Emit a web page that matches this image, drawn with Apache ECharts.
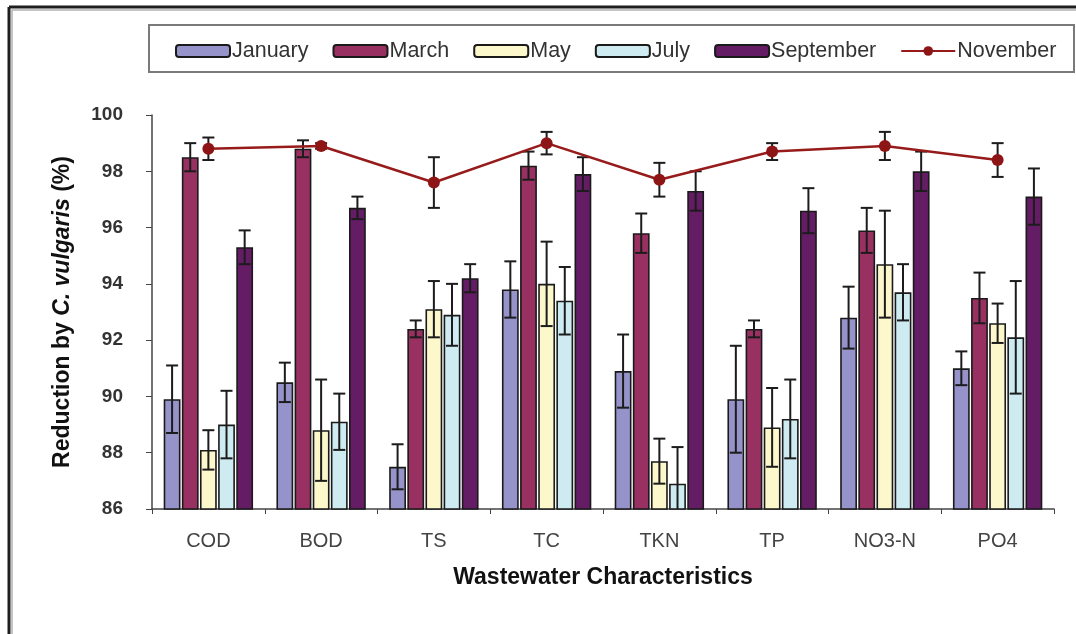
<!DOCTYPE html>
<html>
<head>
<meta charset="utf-8">
<script src="https://cdn.jsdelivr.net/npm/echarts@6/dist/echarts.min.js"></script>
<style>
  html, body { margin: 0; padding: 0; background: #fff; }
  #chart { width: 1076px; height: 634px; }
</style>
</head>
<body>
<div id="chart"></div>
<script>
// Wastewater characteristics and monthly reduction by C. vulgaris (%), mean ± error
const categories = ['COD', 'BOD', 'TS', 'TC', 'TKN', 'TP', 'NO3-N', 'PO4'];
const yTicks = [86, 88, 90, 92, 94, 96, 98, 100];

const january      = [89.9, 90.5, 87.5, 93.8, 90.9, 89.9, 92.8, 91.0];
const januaryErr   = [1.2, 0.7, 0.8, 1.0, 1.3, 1.9, 1.1, 0.6];
const march        = [98.5, 98.8, 92.4, 98.2, 95.8, 92.4, 95.9, 93.5];
const marchErr     = [0.5, 0.3, 0.3, 0.5, 0.7, 0.3, 0.8, 0.9];
const may          = [88.1, 88.8, 93.1, 94.0, 87.7, 88.9, 94.7, 92.6];
const mayErr       = [0.7, 1.8, 1.0, 1.5, 0.8, 1.4, 1.9, 0.7];
const july         = [89.0, 89.1, 92.9, 93.4, 86.9, 89.2, 93.7, 92.1];
const julyErr      = [1.2, 1.0, 1.1, 1.2, 1.3, 1.4, 1.0, 2.0];
const september    = [95.3, 96.7, 94.2, 97.9, 97.3, 96.6, 98.0, 97.1];
const septemberErr = [0.6, 0.4, 0.5, 0.6, 0.7, 0.8, 0.7, 1.0];
const november     = [98.8, 98.9, 97.6, 99.0, 97.7, 98.7, 98.9, 98.4];
const novemberErr  = [0.4, 0.1, 0.9, 0.4, 0.6, 0.3, 0.5, 0.6];

const barSeries = [
  { name: 'January',   values: january,   err: januaryErr,   color: '#9593c9' },
  { name: 'March',     values: march,     err: marchErr,     color: '#993062' },
  { name: 'May',       values: may,       err: mayErr,       color: '#fcf8cc' },
  { name: 'July',      values: july,      err: julyErr,      color: '#cfebf2' },
  { name: 'September', values: september, err: septemberErr, color: '#641c64' }
];

const BAR_W = 16.8;
const BAR_GAP_PCT = 8;
const BAR_STEP = BAR_W * (1 + BAR_GAP_PCT / 100);
const CAP = 6;

function errorRenderer(offsetIndex) {
  return function (params, api) {
    const i = api.value(0), v = api.value(1), e = api.value(2);
    const cs = params.coordSys;
    const top = api.coord([i, v + e]);
    const bot = api.coord([i, v - e]);
    const x = top[0] + offsetIndex * BAR_STEP;
    const y1 = Math.max(top[1], cs.y);
    const y2 = Math.min(bot[1], cs.y + cs.height);
    const style = { stroke: '#1c1c1c', lineWidth: 2 };
    const children = [
      { type: 'line', shape: { x1: x, y1: y1, x2: x, y2: y2 }, style: style }
    ];
    if (top[1] >= cs.y) children.push({ type: 'line', shape: { x1: x - CAP, y1: top[1], x2: x + CAP, y2: top[1] }, style: style });
    if (bot[1] <= cs.y + cs.height) children.push({ type: 'line', shape: { x1: x - CAP, y1: bot[1], x2: x + CAP, y2: bot[1] }, style: style });
    return { type: 'group', children: children };
  };
}

const series = [];
barSeries.forEach(function (s) {
  series.push({
    name: s.name,
    type: 'bar',
    barWidth: BAR_W,
    barGap: BAR_GAP_PCT + '%',
    data: s.values,
    itemStyle: { color: s.color, borderColor: '#1a1a1a', borderWidth: 1.6 },
    z: 2
  });
});
barSeries.forEach(function (s, k) {
  series.push({
    type: 'custom',
    name: s.name + ' error',
    renderItem: errorRenderer(k - 2),
    data: s.values.map(function (v, i) { return [i, v, s.err[i]]; }),
    encode: { x: 0, y: 1 },
    z: 3,
    silent: true
  });
});
series.push({
  type: 'custom',
  name: 'November error',
  renderItem: errorRenderer(0),
  data: november.map(function (v, i) { return [i, v, novemberErr[i]]; }),
  encode: { x: 0, y: 1 },
  z: 4,
  silent: true
});
series.push({
  name: 'November',
  type: 'line',
  data: november,
  symbol: 'circle',
  symbolSize: 12,
  lineStyle: { color: '#971b1b', width: 2.5 },
  itemStyle: { color: '#8e1515' },
  z: 5
});

const chart = echarts.init(document.getElementById('chart'), null, { renderer: 'canvas' });
chart.setOption({
  animation: false,
  backgroundColor: '#ffffff',
  textStyle: { fontFamily: 'Liberation Sans, Arial, sans-serif' },
  graphic: [
    { type: 'line', shape: { x1: 9, y1: 7, x2: 1076, y2: 7 }, style: { stroke: '#1e1e1e', lineWidth: 3 }, z: 0 },
    { type: 'line', shape: { x1: 9, y1: 7, x2: 9, y2: 634 }, style: { stroke: '#1e1e1e', lineWidth: 3 }, z: 0 },
    { type: 'line', shape: { x1: 11.5, y1: 10, x2: 1076, y2: 10 }, style: { stroke: '#b0b0b0', lineWidth: 1.5 }, z: 0 },
    { type: 'line', shape: { x1: 12, y1: 10, x2: 12, y2: 634 }, style: { stroke: '#b0b0b0', lineWidth: 1.5 }, z: 0 },
    { type: 'rect', shape: { x: 149, y: 25, width: 925, height: 47 }, style: { fill: '#ffffff', stroke: '#7a7a7a', lineWidth: 2 }, z: 0 }
  ],
  legend: {
    left: 170,
    top: 35,
    itemWidth: 54,
    itemHeight: 12,
    itemGap: 24,
    textStyle: { fontSize: 21.5, color: '#333', padding: [0, 0, 0, -3] },
    data: [
      { name: 'January', icon: 'roundRect' },
      { name: 'March', icon: 'roundRect' },
      { name: 'May', icon: 'roundRect' },
      { name: 'July', icon: 'roundRect' },
      { name: 'September', icon: 'roundRect' },
      { name: 'November' }
    ],
    z: 10
  },
  grid: { left: 152, right: 22, top: 115, bottom: 125 },
  xAxis: {
    type: 'category',
    data: categories,
    name: 'Wastewater Characteristics',
    nameLocation: 'middle',
    nameGap: 57,
    nameTextStyle: { fontSize: 23, fontWeight: 'bold', color: '#111' },
    axisLine: { lineStyle: { color: '#444', width: 1.5 } },
    axisTick: { show: true, length: 5, lineStyle: { color: '#444' } },
    axisLabel: { fontSize: 20, color: '#444', margin: 22 }
  },
  yAxis: {
    type: 'value',
    min: yTicks[0],
    max: yTicks[yTicks.length - 1],
    interval: 2,
    name: '{b|Reduction by }{i|C. vulgaris}{b| (%)}',
    nameLocation: 'middle',
    nameRotate: 90,
    nameGap: 78,
    nameTextStyle: {
      rich: {
        b: { fontSize: 23, fontWeight: 'bold', color: '#111' },
        i: { fontSize: 23, fontWeight: 'bold', fontStyle: 'italic', color: '#111' }
      }
    },
    splitLine: { show: false },
    axisLine: { show: true, lineStyle: { color: '#444', width: 1.5 } },
    axisTick: { show: true, length: 6, lineStyle: { color: '#444' } },
    axisLabel: { fontSize: 19, fontWeight: 'bold', color: '#333', margin: 29 }
  },
  series: series
});
</script>
</body>
</html>
